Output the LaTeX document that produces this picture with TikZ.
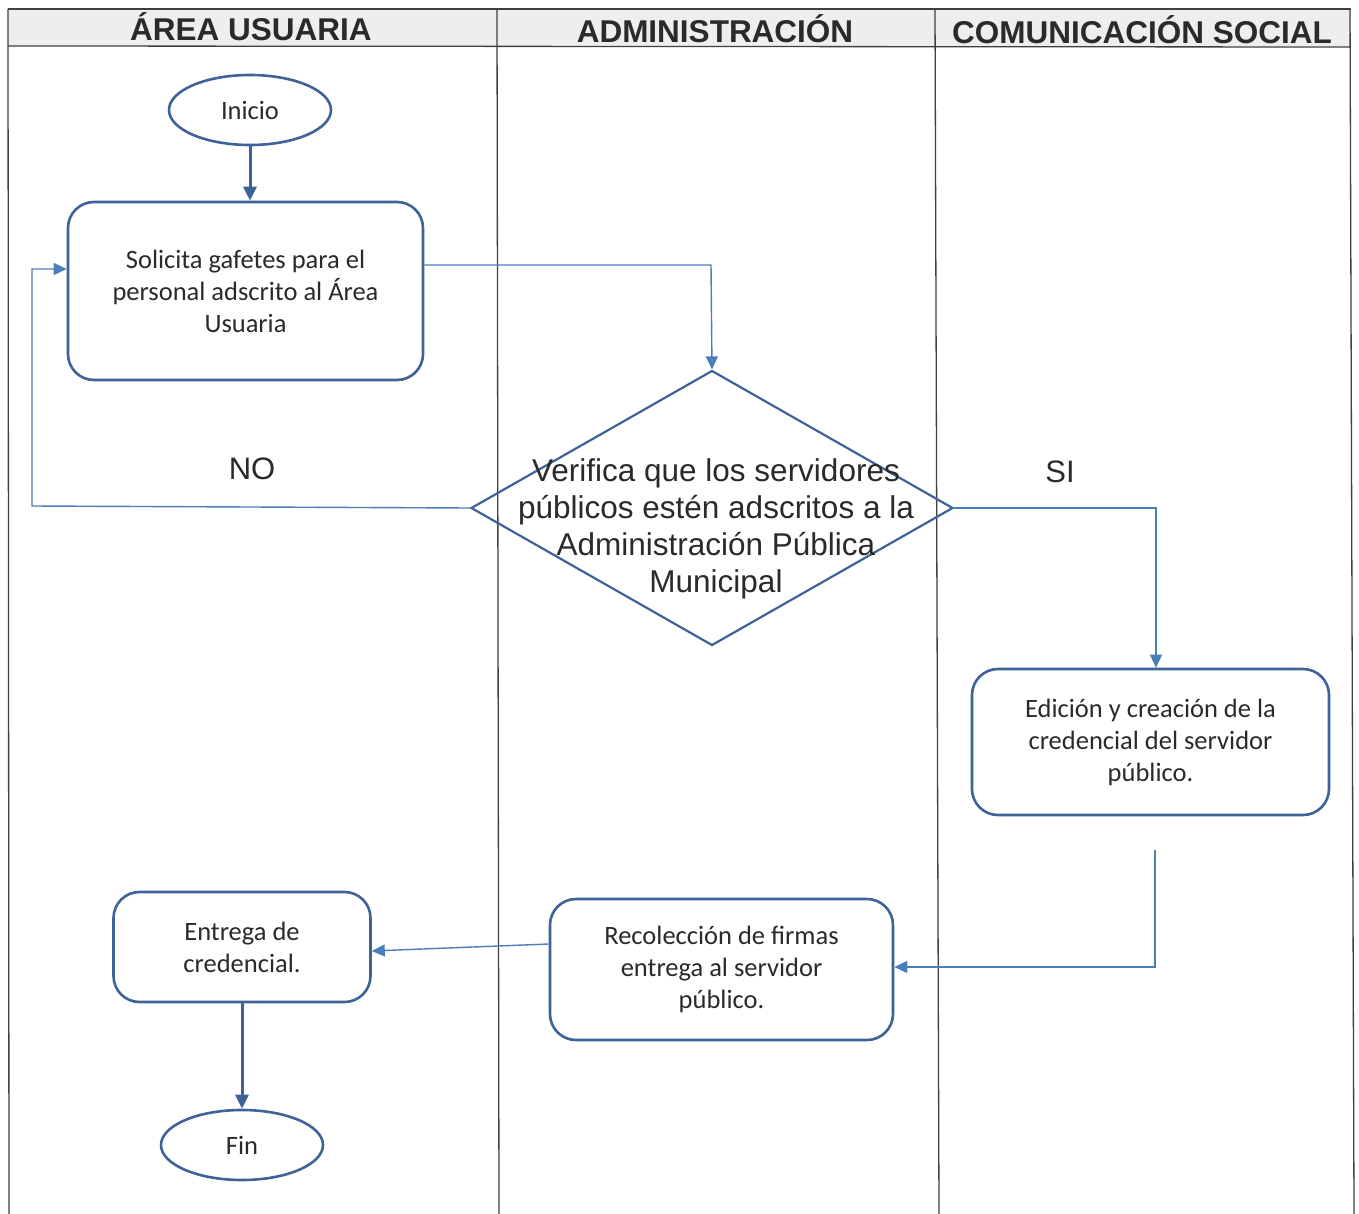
\documentclass[tikz,border=0pt]{standalone}
\usepackage{fontspec}
\setmainfont{Carlito}
\newfontfamily\arialf{Liberation Sans}
\usetikzlibrary{shapes.geometric,arrows.meta}
\definecolor{boxblue}{HTML}{3E6398}
\definecolor{linkblue}{HTML}{4A7EBB}
\definecolor{txt}{HTML}{2A2A2A}
\definecolor{hdrgray}{HTML}{EEEEEE}
\tikzset{
  lane/.style={draw=black!75, line width=1.3pt},
  hdr/.style={font=\arialf\bfseries\fontsize{31.5}{36}\selectfont, text=txt, inner sep=0pt},
  procbox/.style={draw=boxblue, line width=2.6pt, rounded corners=26pt, align=center,
    text=txt, inner sep=0pt, font=\fontsize{26.5}{32}\selectfont},
  termin/.style={draw=boxblue, line width=2.6pt, ellipse, inner sep=0pt,
    minimum width=162pt, minimum height=70pt, text=txt, font=\fontsize{26.5}{32}\selectfont},
  decis/.style={draw=boxblue, line width=2.2pt, diamond, inner sep=0pt,
    minimum width=482pt, minimum height=275pt},
  dtext/.style={align=center, text=txt, inner sep=0pt, font=\arialf\fontsize{31.5}{37}\selectfont},
  lbl/.style={text=txt, inner sep=0pt, font=\arialf\fontsize{31}{36}\selectfont},
  link/.style={draw=linkblue, line width=1.4pt, -{Triangle[length=13pt,width=12pt]}},
  thick link/.style={draw=boxblue, line width=3pt, -{Triangle[length=14pt,width=13pt]}},
}
\begin{document}
\begin{tikzpicture}[x=1pt,y=-1pt]
\useasboundingbox (0,0) rectangle (1359,1214);
\fill[white] (0,0) rectangle (1359,1214);
% header band
\fill[hdrgray] (8,9) rectangle (1351,46);
\draw[lane] (8,9) -- (1351,9);
\draw[lane] (8,46) -- (1351,47);
\draw[lane] (8,9) -- (9,1214);
\draw[lane] (497,9) -- (499,1214);
\draw[lane] (935,9) -- (939,1214);
\draw[lane] (1350,9) -- (1354,1214);
\node[hdr] (h1) at (251,27) {ÁREA USUARIA};
\node[hdr] (h2) at (715,29) {ADMINISTRACIÓN};
\node[hdr] (h3) at (1142,30) {COMUNICACIÓN SOCIAL};

% nodes
\node[termin] (inicio) at (250,110) {Inicio};
\node[procbox, minimum width=355pt, minimum height=178pt] (solicita) at (245.5,291)
  {Solicita gafetes para el\\personal adscrito al Área\\Usuaria};
\node[decis] (verifica) at (712,508) {};
\node[dtext] (vtext) at (716,529)
  {Verifica que los servidores\\públicos estén adscritos a la\\Administración Pública\\Municipal};
\node[procbox, minimum width=357pt, minimum height=146pt] (edicion) at (1150.5,742)
  {\rule{0pt}{6pt}Edición y creación de la\\credencial del servidor\\público.};
\node[procbox, minimum width=343pt, minimum height=141pt] (recol) at (721.5,969.5)
  {\rule{0pt}{6pt}Recolección de firmas\\entrega al servidor\\público.};
\node[procbox, minimum width=257pt, minimum height=110pt] (entrega) at (242,947)
  {Entrega de\\credencial.};
\node[termin] (fin) at (242,1145) {Fin};
\node[lbl] (no) at (252,469) {NO};
\node[lbl] (si) at (1060,472) {SI};

% coordinates
\coordinate (c1) at (711,265);
\coordinate (c2) at (32,506);
\coordinate (c3) at (32,269);
\coordinate (c4) at (1156,510);
\coordinate (c5) at (1155,850);
\coordinate (c6) at (1155,967);

% connectors
\draw[thick link] (inicio.south) -- (solicita.north -| inicio.south);
\draw[link] (solicita.east |- c1) -- (c1) -- (verifica.north);
\draw[link] (verifica.west) -- (c2) -- (c3) -- (solicita.west |- c3);
\draw[link] (verifica.east) -- (verifica.east -| c4) -- (edicion.north -| c4);
\draw[link] (c5) -- (c6) -- (recol.east |- c6);
\draw[link] ([yshift=25.5pt]recol.west) -- ([yshift=-4pt]entrega.east);
\draw[thick link] (entrega.south) -- (fin.north);
\end{tikzpicture}
\end{document}
